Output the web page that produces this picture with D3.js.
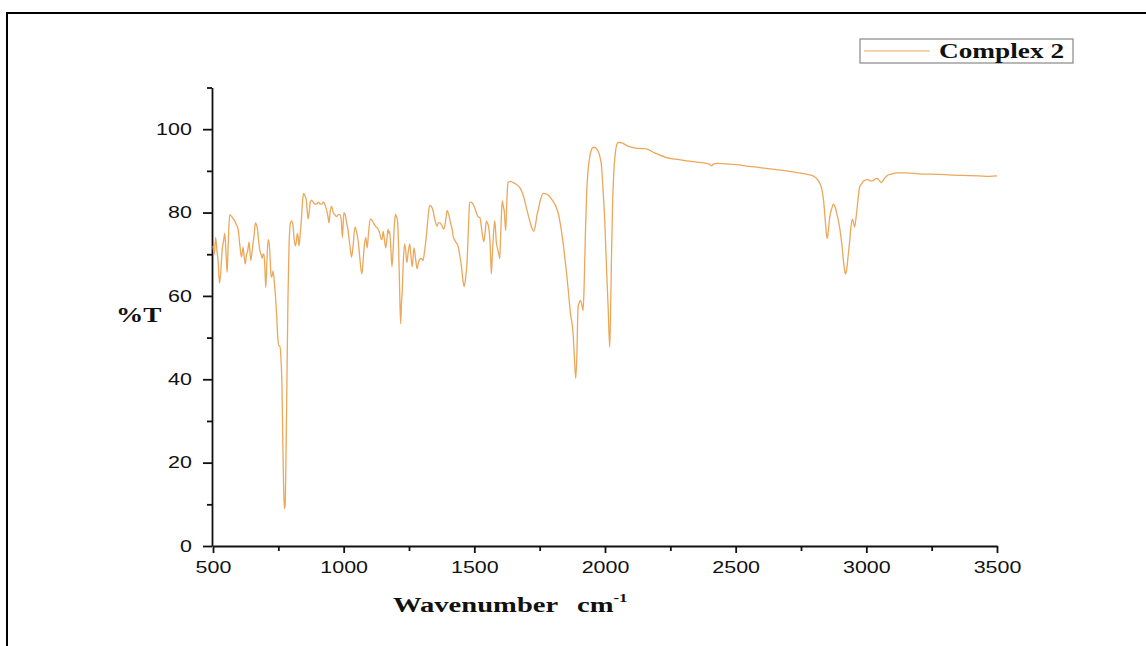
<!DOCTYPE html>
<html lang="en">

<head>
    <meta charset="UTF-8">
    <title>Complex 2 IR spectrum</title>
    <script src="https://d3js.org/d3.v7.min.js"></script>
    <style>
        body {
            margin: 0;
            background: #fff;
        }

        .tick text {
            font-family: "Liberation Sans", Arial, sans-serif;
            font-size: 16.5px;
            fill: #111;
        }

        .axis path,
        .axis line {
            stroke: #111;
            stroke-width: 1.8px;
        }

        .label {
            font-family: "Liberation Serif", "Times New Roman", serif;
            font-weight: bold;
            fill: #111;
        }
    </style>
</head>

<body>
    <script>
        // spectrum (wavenumber cm-1, %T)
        const wavenumbers = [
            500, 505, 510, 515, 520, 525, 530, 535, 540, 545, 550, 554, 558, 564, 572, 583, 590, 596, 603, 609,
            615, 620, 624, 628, 632, 638, 642, 645, 650, 654, 658, 662, 667, 670, 675, 679, 684, 688, 692, 695,
            699, 702, 706, 711, 715, 717, 720, 723, 727, 730, 735, 739, 743, 748, 752, 756, 760, 764, 767, 770,
            773, 776, 779, 783, 787, 791, 795, 797, 801, 806, 810, 815, 819, 823, 826, 829, 834, 838, 843, 847,
            852, 857, 861, 864, 868, 872, 877, 883, 890, 897, 903, 910, 916, 922, 928, 935, 940, 944, 948, 954,
            960, 966, 973, 980, 986, 991, 995, 998, 1001, 1006, 1010, 1016, 1022, 1026, 1030, 1036, 1043, 1049, 1056, 1062,
            1066, 1070, 1074, 1079, 1084, 1087, 1090, 1095, 1102, 1110, 1119, 1125, 1132, 1138, 1145, 1148, 1151, 1155, 1161, 1166,
            1170, 1173, 1176, 1180, 1185, 1190, 1194, 1198, 1202, 1206, 1210, 1214, 1218, 1221, 1224, 1228, 1233, 1237, 1242, 1247,
            1253, 1257, 1262, 1266, 1269, 1275, 1281, 1286, 1291, 1297, 1304, 1310, 1317, 1323, 1329, 1335, 1342, 1350, 1357, 1362,
            1368, 1375, 1383, 1390, 1396, 1402, 1409, 1415, 1420, 1424, 1429, 1434, 1438, 1445, 1451, 1456, 1461, 1466, 1472, 1476,
            1479, 1482, 1488, 1495, 1505, 1514, 1521, 1528, 1536, 1541, 1546, 1549, 1553, 1559, 1562, 1565, 1569, 1574, 1578, 1581,
            1584, 1590, 1594, 1597, 1601, 1604, 1607, 1611, 1615, 1618, 1620, 1623, 1626, 1629, 1638, 1648, 1660, 1674, 1685, 1692,
            1699, 1710, 1720, 1727, 1734, 1740, 1744, 1752, 1763, 1775, 1789, 1800, 1814, 1824, 1833, 1843, 1852, 1860, 1868, 1878,
            1883, 1888, 1892, 1897, 1902, 1906, 1911, 1916, 1920, 1925, 1930, 1935, 1942, 1948, 1954, 1960, 1967, 1975, 1982, 1986,
            1992, 1999, 2005, 2012, 2018, 2021, 2025, 2029, 2034, 2040, 2045, 2050, 2058, 2069, 2085, 2107, 2130, 2158, 2190, 2235,
            2270, 2312, 2350, 2388, 2400, 2407, 2415, 2427, 2460, 2503, 2550, 2592, 2640, 2694, 2735, 2771, 2796, 2809, 2822, 2830,
            2837, 2843, 2847, 2851, 2855, 2860, 2868, 2874, 2879, 2888, 2898, 2907, 2914, 2920, 2925, 2931, 2936, 2941, 2947, 2951,
            2955, 2961, 2968, 2975, 2981, 2990, 3006, 3015, 3024, 3032, 3040, 3048, 3057, 3065, 3075, 3083, 3100, 3115, 3150, 3200,
            3243, 3300, 3370, 3430, 3470, 3500
        ];
        const transmittance = [
            72, 70, 74, 71, 68, 63, 66, 71, 73, 75, 70, 65.7, 72, 79.5, 79, 78, 77, 76, 72, 69.3,
            71.7, 69, 67.7, 70, 70.5, 72.9, 70, 68.5, 71, 73, 75, 77.5, 77, 76, 73, 71, 70, 69, 70, 70,
            66, 62, 68, 73.5, 72.5, 71, 67, 64.5, 65, 66, 63, 60, 56, 50, 48, 48, 45, 38, 25, 15,
            9, 10, 20, 40, 60, 72, 77, 77.6, 78, 77, 74, 72, 73, 75, 74, 72, 75, 78, 83, 84.6,
            84, 83, 80, 78.5, 80, 82.5, 83, 82.5, 82, 82, 82.5, 82, 82, 82.5, 82, 80.5, 79, 77.5, 80, 81.5,
            80, 79.5, 79, 79.5, 79.5, 78, 74, 77, 80, 79.5, 78, 76, 73, 71, 69.3, 72, 76.5, 75.5, 73, 69,
            66.5, 65.3, 68, 72, 74, 73, 71.5, 75, 78.5, 78, 77, 76.5, 76, 75, 73.5, 74, 75.5, 74, 71.5, 74,
            76, 75, 75.5, 72, 67, 72, 77, 79.6, 79, 78, 72, 62, 53.3, 58, 61, 68, 72.5, 71, 68, 70.5,
            72.5, 70, 67, 69.5, 71.5, 69, 66.5, 68, 68.8, 69, 68.5, 71, 74.7, 79, 81.7, 81.5, 80.5, 78, 76.7, 77.5,
            77.5, 77, 76, 78, 80.5, 79.5, 77.5, 76, 74, 73.5, 72.9, 72.5, 71.8, 69.5, 67, 64, 62.2, 64, 68, 74,
            79, 82.4, 82.5, 82, 80.5, 79, 78.8, 76, 73, 75, 78, 77.6, 77, 74, 70, 65.3, 70, 75.5, 78, 76,
            73, 71, 70, 68.9, 75, 80, 82.8, 81.5, 80, 77, 75.7, 80, 85, 87.2, 87.5, 87.2, 86.8, 86, 84.5, 83,
            81.2, 78.5, 76.3, 75.5, 77, 79.5, 80.5, 82.8, 84.6, 84.5, 83.8, 82.8, 81.2, 79, 75.7, 71, 66, 61, 55.7, 51,
            45, 40.2, 45, 57.3, 58.5, 58.9, 58, 56.5, 62, 75, 85, 90, 93.5, 95, 95.6, 95.6, 95.3, 94.5, 93, 91.6,
            86, 78, 68, 57.3, 47.7, 55, 70, 82, 90, 94.5, 96.3, 96.8, 96.8, 96.6, 96, 95.6, 95.4, 95.3, 94.3, 93.2,
            92.8, 92.4, 92.1, 91.8, 91.6, 91.2, 91.6, 91.8, 91.7, 91.5, 91.1, 90.8, 90.4, 90, 89.6, 89.2, 88.8, 88.2, 87, 85.5,
            82.5, 78, 75, 73.8, 76, 78.9, 81, 82, 81.6, 79.5, 76.4, 72, 67.5, 65.2, 66.5, 70, 73, 76.5, 78.4, 77.5,
            76.5, 79, 83, 86.3, 86.8, 87.6, 87.9, 87.6, 87.6, 88, 88.2, 87.8, 87.2, 87.8, 88.6, 89, 89.3, 89.5, 89.5, 89.3,
            89.2, 89.1, 88.9, 88.8, 88.7, 88.8
        ];

        const xMajor = [500, 1000, 1500, 2000, 2500, 3000, 3500];
        const xMinor = [750, 1250, 1750, 2250, 2750, 3250];
        const yMajor = [0, 20, 40, 60, 80, 100];
        const yMinor = [10, 30, 50, 70, 90, 110];
        const seriesName = "Complex 2";

        const width = 1146;
        const height = 646;
        const lineColor = "#eba75a";
        const stretch = "scale(1.3,1)"; // the picture is widened, so is its type

        const svg = d3.select("body")
            .append("svg")
            .attr("width", width)
            .attr("height", height);

        // frame around the figure (top and left edges only show)
        svg.append("path")
            .attr("d", `M7,${height} V13 H${width}`)
            .attr("fill", "none")
            .attr("stroke", "#000")
            .attr("stroke-width", 2);

        const x = d3.scaleLinear().domain([500, 3500]).range([213, 997]);
        const y = d3.scaleLinear().domain([0, 110]).range([546, 87.5]);

        // x axis
        const xAxis = svg.append("g")
            .attr("class", "axis")
            .attr("transform", "translate(0,546)")
            .call(d3.axisBottom(x).tickValues(xMajor).tickSize(7).tickSizeOuter(0)
                .tickPadding(8).tickFormat(d3.format("d")));
        xAxis.selectAll("text").attr("transform", stretch);
        svg.append("g")
            .attr("class", "axis")
            .attr("transform", "translate(0,546)")
            .call(d3.axisBottom(x).tickValues(xMinor).tickSize(5).tickFormat(""))
            .select(".domain").remove();

        // y axis
        const yAxis = svg.append("g")
            .attr("class", "axis")
            .attr("transform", "translate(212,0)")
            .call(d3.axisLeft(y).tickValues(yMajor).tickSize(9).tickSizeOuter(0)
                .tickFormat(d3.format("d")));
        yAxis.selectAll("text").attr("x", -15.5).attr("transform", stretch);
        svg.append("g")
            .attr("class", "axis")
            .attr("transform", "translate(212,0)")
            .call(d3.axisLeft(y).tickValues(yMinor).tickSize(5).tickFormat(""))
            .select(".domain").remove();

        // spectrum
        const points = wavenumbers.map((w, i) => [w, transmittance[i]]);
        const line = d3.line()
            .x(d => x(d[0]))
            .y(d => y(d[1]))
            .curve(d3.curveMonotoneX);

        svg.append("path")
            .datum(points)
            .attr("fill", "none")
            .attr("stroke", lineColor)
            .attr("stroke-width", 1.3)
            .attr("d", line);

        // axis titles
        svg.append("text")
            .attr("class", "label")
            .attr("transform", `translate(116,322) ${stretch}`)
            .style("font-size", "21px")
            .text("%T");

        const xTitle = svg.append("text")
            .attr("class", "label")
            .attr("transform", `translate(393,612) ${stretch}`)
            .style("font-size", "22px");
        xTitle.append("tspan").text("Wavenumber");
        xTitle.append("tspan").attr("x", 141.5).text("cm");
        xTitle.append("tspan").attr("dy", -10).style("font-size", "13px").text("-1");

        // legend
        const legend = svg.append("g").attr("transform", "translate(860,39)");
        legend.append("rect")
            .attr("width", 213)
            .attr("height", 24)
            .attr("fill", "#fff")
            .attr("stroke", "#888")
            .attr("stroke-width", 1.2);
        legend.append("line")
            .attr("x1", 4).attr("x2", 70)
            .attr("y1", 12).attr("y2", 12)
            .attr("stroke", lineColor)
            .attr("stroke-width", 1);
        legend.append("text")
            .attr("class", "label")
            .attr("transform", `translate(79,19) ${stretch}`)
            .style("font-size", "21px")
            .text(seriesName);
    </script>
</body>

</html>
